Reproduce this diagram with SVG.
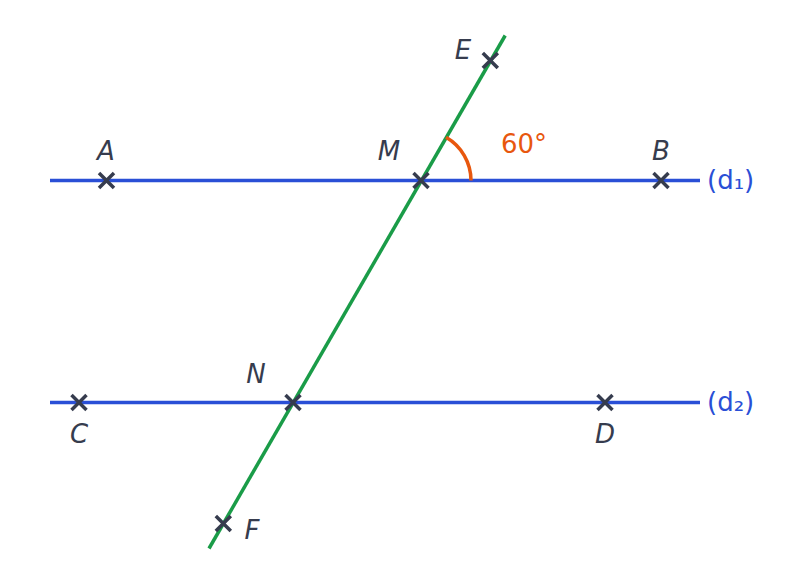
<svg xmlns="http://www.w3.org/2000/svg" width="796" height="584" viewBox="0 0 796 584">
<style>
.ln{stroke:#2a4fd6;stroke-width:3.5;fill:none}
.tr{stroke:#1a9c48;stroke-width:3.5;fill:none}
.pt{stroke:#363c4e;stroke-width:3.5;fill:none;stroke-linecap:butt}
.lb{font-family:"DejaVu Sans",sans-serif;font-style:italic;font-size:26px;fill:#363c4e}
.dl{font-family:"DejaVu Sans",sans-serif;font-size:26px;fill:#2a4fd6}
.an{font-family:"DejaVu Sans",sans-serif;font-size:26px;fill:#e8570e}
</style>
<defs>
<path id="x" d="M-7.5,-7.5L7.5,7.5M-7.5,7.5L7.5,-7.5"/>
</defs>
<rect width="796" height="584" fill="#ffffff"/>
<g id="connectors">
<line class="ln" x1="50" y1="180.5" x2="700" y2="180.5"/>
<line class="ln" x1="50" y1="402.5" x2="700" y2="402.5"/>
<line class="tr" x1="209" y1="548.5" x2="505.2" y2="35.5"/>
<path d="M471,180.5 A50,50 0 0 0 446,137.2" stroke="#e8570e" stroke-width="3.5" fill="none"/>
</g>
<g id="A"><use href="#x" class="pt" x="106.5" y="180.5"/><text class="lb" x="106" y="160" text-anchor="middle">A</text></g>
<g id="B"><use href="#x" class="pt" x="661" y="180.5"/><text class="lb" x="661" y="160" text-anchor="middle">B</text></g>
<g id="M"><use href="#x" class="pt" x="421" y="180.5"/><text class="lb" x="389" y="160" text-anchor="middle">M</text></g>
<g id="E"><use href="#x" class="pt" x="490.3" y="60.5"/><text class="lb" x="463" y="59" text-anchor="middle">E</text></g>
<g id="N"><use href="#x" class="pt" x="293" y="402.5"/><text class="lb" x="256" y="383" text-anchor="middle">N</text></g>
<g id="C"><use href="#x" class="pt" x="79" y="402.5"/><text class="lb" x="79" y="443" text-anchor="middle">C</text></g>
<g id="D"><use href="#x" class="pt" x="605" y="402.5"/><text class="lb" x="605" y="443" text-anchor="middle">D</text></g>
<g id="F"><use href="#x" class="pt" x="223.3" y="523.5"/><text class="lb" x="252" y="539" text-anchor="middle">F</text></g>
<g id="angle"><text class="an" x="524" y="153" text-anchor="middle">60°</text></g>
<g id="d1"><text class="dl" x="707" y="189">(d₁)</text></g>
<g id="d2"><text class="dl" x="707" y="411">(d₂)</text></g>
</svg>
